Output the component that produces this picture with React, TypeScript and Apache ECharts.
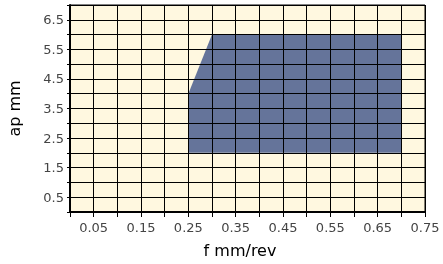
import React, { useEffect, useRef } from "react";
import * as echarts from "echarts";

const regionF = [0.25, 0.25, 0.3, 0.7, 0.7];
const regionAp = [2, 4, 6, 6, 2];
const xRange = [0, 0.75];
const yRange = [0, 7];
const xStep = 0.05;
const yStep = 0.5;
const xName = "f mm/rev";
const yName = "ap mm";

export default function App() {
  const ref = useRef<HTMLDivElement>(null);
  useEffect(() => {
    if (!ref.current) return;
    const chart = echarts.init(ref.current, null, { renderer: "svg" });
    const pts = regionF.map((f, i) => [f, regionAp[i]]);
    const font = "DejaVu Sans";
    chart.setOption({
      animation: false,
      grid: {
        left: 70,
        right: 18,
        top: 5,
        bottom: 52,
        outerBoundsMode: "none",
        containLabel: false,
        show: true,
        backgroundColor: "#fff8e0",
        borderColor: "#000",
        borderWidth: 1,
      },
      xAxis: {
        type: "value",
        min: xRange[0],
        max: xRange[1],
        interval: xStep,
        z: 5,
        name: xName,
        nameLocation: "middle",
        nameGap: 30,
        nameTextStyle: { fontFamily: font, fontSize: 16, color: "#000", padding: [0, 15, 0, 0] },
        axisLine: { show: true, lineStyle: { color: "#000", width: 2 } },
        axisTick: { show: true, length: 5, lineStyle: { color: "#000" } },
        axisLabel: {
          fontFamily: font,
          fontSize: 13,
          color: "#444",
          margin: 9,
          showMaxLabel: true,
          formatter: (v: number) => (Math.round(v * 100) % 10 === 5 ? v.toFixed(2) : ""),
        },
        splitLine: { show: true, lineStyle: { color: "#000", width: 1 } },
      },
      yAxis: {
        type: "value",
        min: yRange[0],
        max: yRange[1],
        interval: yStep,
        z: 5,
        name: yName,
        nameLocation: "middle",
        nameGap: 48,
        nameTextStyle: { fontFamily: font, fontSize: 16, color: "#000" },
        axisLine: { show: true, lineStyle: { color: "#000", width: 2 } },
        axisTick: { show: true, length: 3, lineStyle: { color: "#000" } },
        axisLabel: {
          fontFamily: font,
          fontSize: 13,
          color: "#444",
          margin: 6,
          formatter: (v: number) => (Math.round(v * 10) % 10 === 5 ? v.toFixed(1) : ""),
        },
        splitLine: { show: true, lineStyle: { color: "#000", width: 1 } },
      },
      series: [
        {
          type: "custom",
          z: 2,
          data: pts,
          renderItem: (params: any, api: any) => {
            if (params.dataIndex !== 0) return null;
            const points = pts.map((p) => api.coord(p));
            return {
              type: "polygon",
              shape: { points },
              style: { fill: "#65749a", stroke: "none" },
            };
          },
        },
      ],
    });
    return () => chart.dispose();
  }, []);
  return (
    <div
      ref={ref}
      style={{ position: "fixed", left: 0, top: 0, width: 443, height: 264 }}
    />
  );
}
